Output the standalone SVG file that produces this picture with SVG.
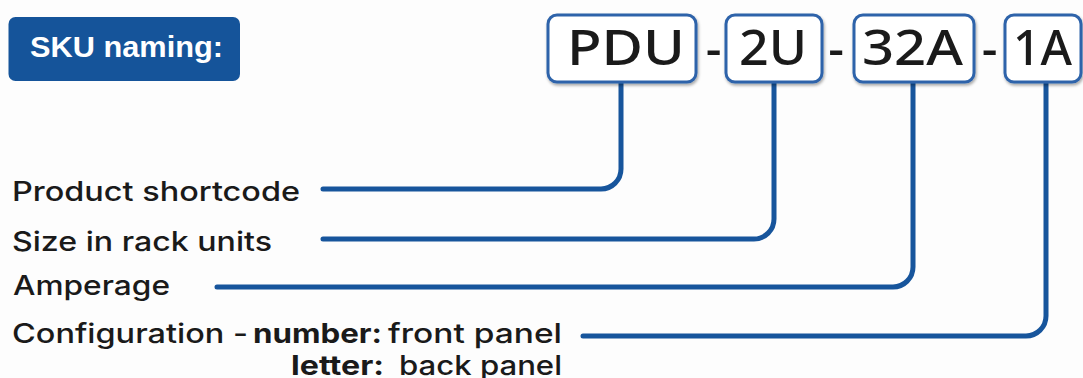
<svg xmlns="http://www.w3.org/2000/svg" width="1083" height="378" viewBox="0 0 1083 378">
<defs>
<filter id="sh" x="-10%" y="-10%" width="130%" height="140%">
<feDropShadow dx="1" dy="2" stdDeviation="1.6" flood-color="#000" flood-opacity="0.35"/>
</filter>
<style>
.conn{fill:none;stroke:#17559c;stroke-width:5;stroke-linecap:round;stroke-linejoin:round}
.box{fill:#fff;stroke:#2f64aa;stroke-width:3;filter:url(#sh)}
.big{font-family:"Noto Sans","DejaVu Sans",sans-serif;font-size:49px;font-weight:500;fill:#1a1a1a}
.lbl{font-family:Inter,Roboto,"Liberation Sans",sans-serif;font-size:27px;font-weight:500;fill:#1a1a1a}
.b{font-weight:700}
</style>
</defs>
<rect width="1083" height="378" fill="#fdfdfd"/>
<g id="title">
<rect x="8.5" y="17" width="231.5" height="64" rx="7" fill="#15549a"/>
<text x="30" y="57" font-family="'Liberation Sans',Arial,sans-serif" font-size="30" font-weight="700" fill="#fff" textLength="193" lengthAdjust="spacingAndGlyphs">SKU naming:</text>
</g>
<g id="connectors">
<path class="conn" d="M621 83 V169 A20 20 0 0 1 601 189 H323"/>
<path class="conn" d="M774 83 V219 A20 20 0 0 1 754 239 H323"/>
<path class="conn" d="M913 83 V267 A20 20 0 0 1 893 287 H217"/>
<path class="conn" d="M1046 83 V316 A20 20 0 0 1 1026 336 H583"/>
</g>
<g id="pdu">
<rect class="box" x="548" y="15" width="148" height="67" rx="9"/>
<text class="big" x="567" y="65" textLength="118" lengthAdjust="spacingAndGlyphs">PDU</text>
</g>
<g id="dash1"><text class="big" x="713.5" y="66" text-anchor="middle">-</text></g>
<g id="u2">
<rect class="box" x="726" y="15" width="96" height="67" rx="9"/>
<text class="big" x="739" y="65" textLength="68" lengthAdjust="spacingAndGlyphs">2U</text>
</g>
<g id="dash2"><text class="big" x="836" y="66" text-anchor="middle">-</text></g>
<g id="a32">
<rect class="box" x="854" y="15" width="120" height="67" rx="9"/>
<text class="big" x="862" y="65" textLength="101" lengthAdjust="spacingAndGlyphs">32A</text>
</g>
<g id="dash3"><text class="big" x="989.5" y="66" text-anchor="middle">-</text></g>
<g id="a1">
<rect class="box" x="1005" y="15" width="76" height="67" rx="9"/>
<text class="big" x="1013" y="65" textLength="59" lengthAdjust="spacingAndGlyphs">1A</text>
</g>
<g id="label-product">
<text class="lbl" x="12" y="201" textLength="288" lengthAdjust="spacingAndGlyphs">Product shortcode</text>
</g>
<g id="label-size">
<text class="lbl" x="12" y="251" textLength="260" lengthAdjust="spacingAndGlyphs">Size in rack units</text>
</g>
<g id="label-amperage">
<text class="lbl" x="13" y="295" textLength="157" lengthAdjust="spacingAndGlyphs">Amperage</text>
</g>
<g id="label-config">
<text class="lbl" x="12" y="343" textLength="236" lengthAdjust="spacingAndGlyphs">Configuration -</text>
<text class="lbl b" x="253" y="343" textLength="129" lengthAdjust="spacingAndGlyphs">number:</text>
<text class="lbl" x="388" y="343" textLength="174" lengthAdjust="spacingAndGlyphs">front panel</text>
<text class="lbl b" x="291" y="375" textLength="93" lengthAdjust="spacingAndGlyphs">letter:</text>
<text class="lbl" x="399" y="375" textLength="163" lengthAdjust="spacingAndGlyphs">back panel</text>
</g>
</svg>
